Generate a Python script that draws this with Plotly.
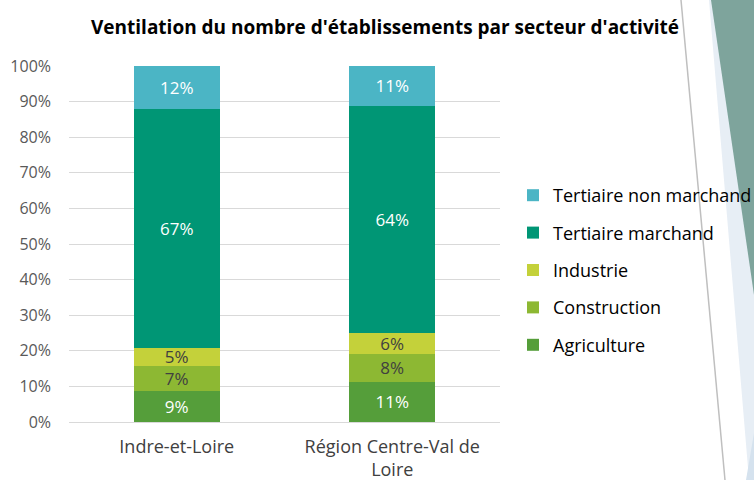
import plotly.graph_objects as go

categories = ["Indre-et-Loire", "Région Centre-Val de<br>Loire"]
series_names = ["Agriculture", "Construction", "Industrie", "Tertiaire marchand", "Tertiaire non marchand"]
agriculture = [8.6, 11.3]
construction = [7.2, 7.9]
industrie = [5.1, 5.9]
tertiaire_marchand = [67.1, 63.7]
tertiaire_non_marchand = [12.0, 11.2]
y_ticks = [0, 10, 20, 30, 40, 50, 60, 70, 80, 90, 100]
y_tick_labels = [f"{v}%" for v in y_ticks]

series_values = [agriculture, construction, industrie, tertiaire_marchand, tertiaire_non_marchand]
colors = ["#559E3A", "#8DB833", "#C4D13A", "#009675", "#4BB5C5"]
text_colors = ["white", "#404040", "#404040", "white", "white"]

W, H = 754, 480
ML, MR, MT, MB = 69, 254, 66, 58
PW, PH = W - ML - MR, H - MT - MB

def px(x):
    return (x - ML) / PW

def py(y):
    return (H - MB - y) / PH

FONT = "Open Sans"

fig = go.Figure()
for i, (name, vals) in enumerate(zip(series_names, series_values)):
    fig.add_trace(go.Bar(
        x=categories, y=vals, name=name,
        marker=dict(color=colors[i], line=dict(width=0)),
        text=[f"{round(v)}%" for v in vals],
        textposition="inside", insidetextanchor="middle", textangle=0,
        constraintext="none",
        textfont=dict(color=text_colors[i], size=17, family=FONT),
        legendgroup=name, legendrank=len(series_names) - i,
        hoverinfo="skip",
    ))

def poly(points, color):
    d = "M" + " L".join(f"{px(a):.5f},{py(b):.5f}" for a, b in points) + " Z"
    return dict(type="path", xref="paper", yref="paper", layer="above",
                path=d, fillcolor=color, line=dict(width=0), opacity=1)

shapes = [
    poly([(709, 0), (754, 0), (754, 480), (749, 480)], "#E7EEF5"),
    poly([(711, 0), (754, 0), (754, 295)], "#7EA49C"),
    poly([(754, 433), (754, 480), (746, 480)], "#D5E2EE"),
    dict(type="line", xref="paper", yref="paper", layer="above",
         x0=px(681), y0=py(0), x1=px(725), y1=py(480),
         line=dict(color="#BFBFBF", width=1.5)),
]

fig.update_layout(
    width=W, height=H,
    margin=dict(l=ML, r=MR, t=MT, b=MB, autoexpand=False),
    paper_bgcolor="white", plot_bgcolor="white",
    barmode="stack", bargap=0.6,
    title=dict(text="<b>Ventilation du nombre d'établissements par secteur d'activité</b>",
               x=385 / W, xanchor="center", xref="container", y=1 - 27 / H, yanchor="middle",
               yref="container",
               font=dict(family=FONT, size=19, color="black")),
    font=dict(family=FONT, color="#595959"),
    showlegend=True,
    legend=dict(traceorder="grouped", tracegroupgap=11,
                xref="container", yref="container",
                x=513 / W, xanchor="left", y=1 - 177 / H, yanchor="top",
                font=dict(size=18, color="black", family=FONT),
                itemwidth=30, bgcolor="rgba(0,0,0,0)"),
    shapes=shapes,
    xaxis=dict(showgrid=False, showline=False, ticks="", ticklabelstandoff=12,
               automargin=False,
               tickfont=dict(size=18, color="#404040", family=FONT)),
    yaxis=dict(range=[0, 100], tickvals=y_ticks, ticktext=y_tick_labels,
               showgrid=True, gridcolor="#D9D9D9", gridwidth=1,
               zeroline=True, zerolinecolor="#D9D9D9", zerolinewidth=1,
               ticks="", ticklabelstandoff=17, automargin=False,
               tickfont=dict(size=16, color="#595959", family=FONT)),
)

fig.write_html("out.html", config={"displayModeBar": False},
               post_script="document.body.style.margin='0';")
